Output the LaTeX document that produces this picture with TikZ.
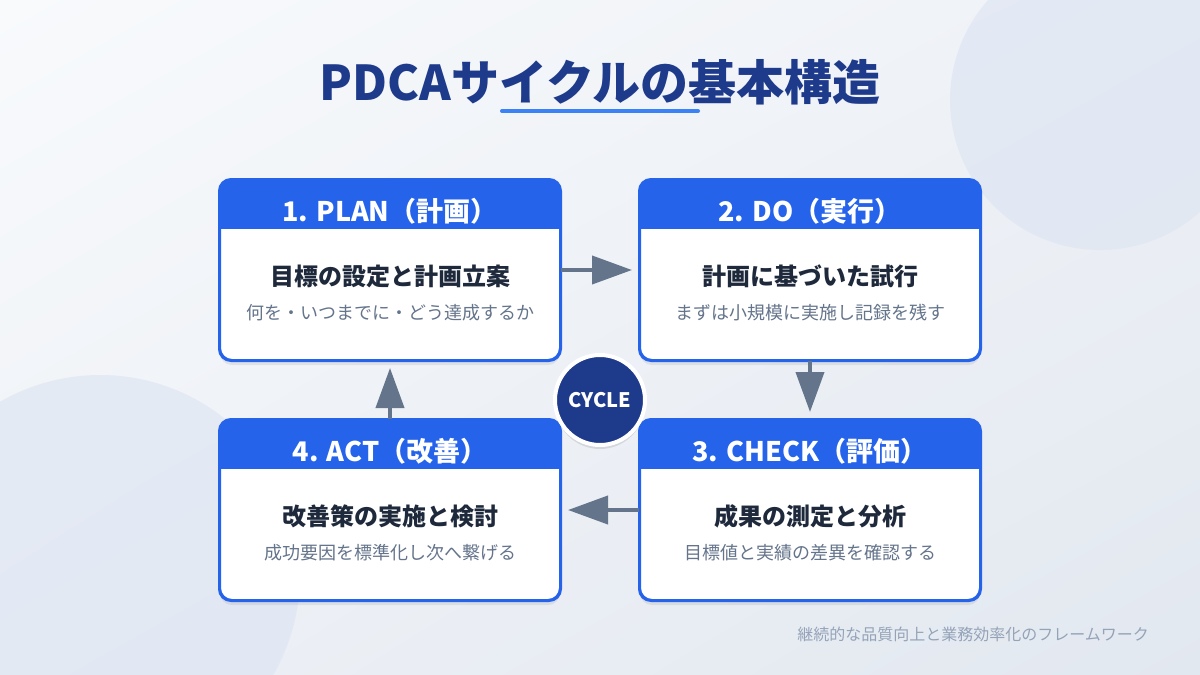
\documentclass[tikz,border=0pt]{standalone}
\usepackage{fontspec}
\setmainfont{Noto Sans CJK JP}
\usetikzlibrary{arrows.meta,shadows,shadings}

\definecolor{titleblue}{HTML}{1E3A8A}
\definecolor{headblue}{HTML}{2563EB}
\definecolor{lineblue}{HTML}{3B82F6}
\definecolor{arrowgray}{HTML}{64748B}
\definecolor{maintext}{HTML}{1E293B}
\definecolor{subtext}{HTML}{64748B}
\definecolor{foottext}{HTML}{94A3B8}
\definecolor{bgtop}{HTML}{F8FAFC}
\definecolor{bgmid}{HTML}{EEF1F6}
\definecolor{bgbottom}{HTML}{E2E8F0}
\definecolor{blob}{HTML}{DCE4F2}

\tikzset{
  stage/.style={rectangle, rounded corners=6pt, minimum width=170pt, minimum height=90pt,
    fill=white, draw=headblue, line width=1pt,
    drop shadow={shadow xshift=0pt, shadow yshift=-2.5pt, opacity=0.07, fill=black}},
  stageline/.style={draw=headblue, line width=1pt, rounded corners=6pt},
  headtext/.style={text=white, font=\bfseries\fontsize{13.5}{16}\selectfont},
  maintext/.style={text=maintext, font=\bfseries\fontsize{12}{14}\selectfont},
  subtext/.style={text=subtext, font=\fontsize{9}{11}\selectfont},
  flow/.style={draw=arrowgray, line width=2pt, shorten >=3.5pt,
    -{Triangle[length=20pt,width=14pt]}},
}

% name, position, header, main line, sub line
\newcommand{\stagebox}[5]{%
  \node[stage] (#1) at (#2) {};
  \begin{scope}
    \clip[rounded corners=6pt] (#1.south west) rectangle (#1.north east);
    \fill[headblue] (#1.north west) rectangle ([yshift=-25pt]#1.north east);
  \end{scope}
  \draw[stageline] (#1.south west) rectangle (#1.north east);
  \node[headtext] (#1-head) at ([yshift=-16pt]#1.north) {#3};
  \node[maintext] (#1-main) at ([yshift=-48.5pt]#1.north) {#4};
  \node[subtext] (#1-sub) at ([yshift=-67pt]#1.north) {#5};
}

\begin{document}
\begin{tikzpicture}[x=0.5pt, y=-0.5pt]
  % background
  \shade[upper left=bgtop, upper right=bgmid, lower left=bgmid, lower right=bgbottom]
    (0,0) rectangle (1200,675);
  \useasboundingbox (0,0) rectangle (1200,675);
  \fill[blob, opacity=0.6] (1100,100) circle[radius=75pt];
  \fill[blob, opacity=0.6] (100,575) circle[radius=100pt];

  % title
  \node[text=titleblue, font=\bfseries\fontsize{24}{28}\selectfont] (title) at (600,82) {PDCAサイクルの基本構造};
  \draw[lineblue, line width=2pt, line cap=round] (502,111) -- (698,111);

  % stages
  \stagebox{plan}{390,270}{1. PLAN（計画）}{目標の設定と計画立案}{何を・いつまでに・どう達成するか}
  \stagebox{do}{810,270}{2. DO（実行）}{計画に基づいた試行}{まずは小規模に実施し記録を残す}
  \stagebox{check}{810,510}{3. CHECK（評価）}{成果の測定と分析}{目標値と実績の差異を確認する}
  \stagebox{act}{390,510}{4. ACT（改善）}{改善策の実施と検討}{成功要因を標準化し次へ繋げる}

  \draw[flow] (plan) -- (do);
  \draw[flow] (do) -- (check);
  \draw[flow] (check) -- (act);
  \draw[flow] (act) -- (plan);

  \node[circle, fill=titleblue, draw=white, line width=2pt, minimum size=45pt, inner sep=0pt,
    text=white, font=\bfseries\fontsize{10}{12}\selectfont,
    drop shadow={shadow xshift=0pt, shadow yshift=-2pt, opacity=0.10, fill=black}] (cycle) at (600,400) {CYCLE};

  \node[anchor=east, text=foottext, font=\fontsize{8}{10}\selectfont] (footer) at (1156,634)
    {継続的な品質向上と業務効率化のフレームワーク};
\end{tikzpicture}
\end{document}
